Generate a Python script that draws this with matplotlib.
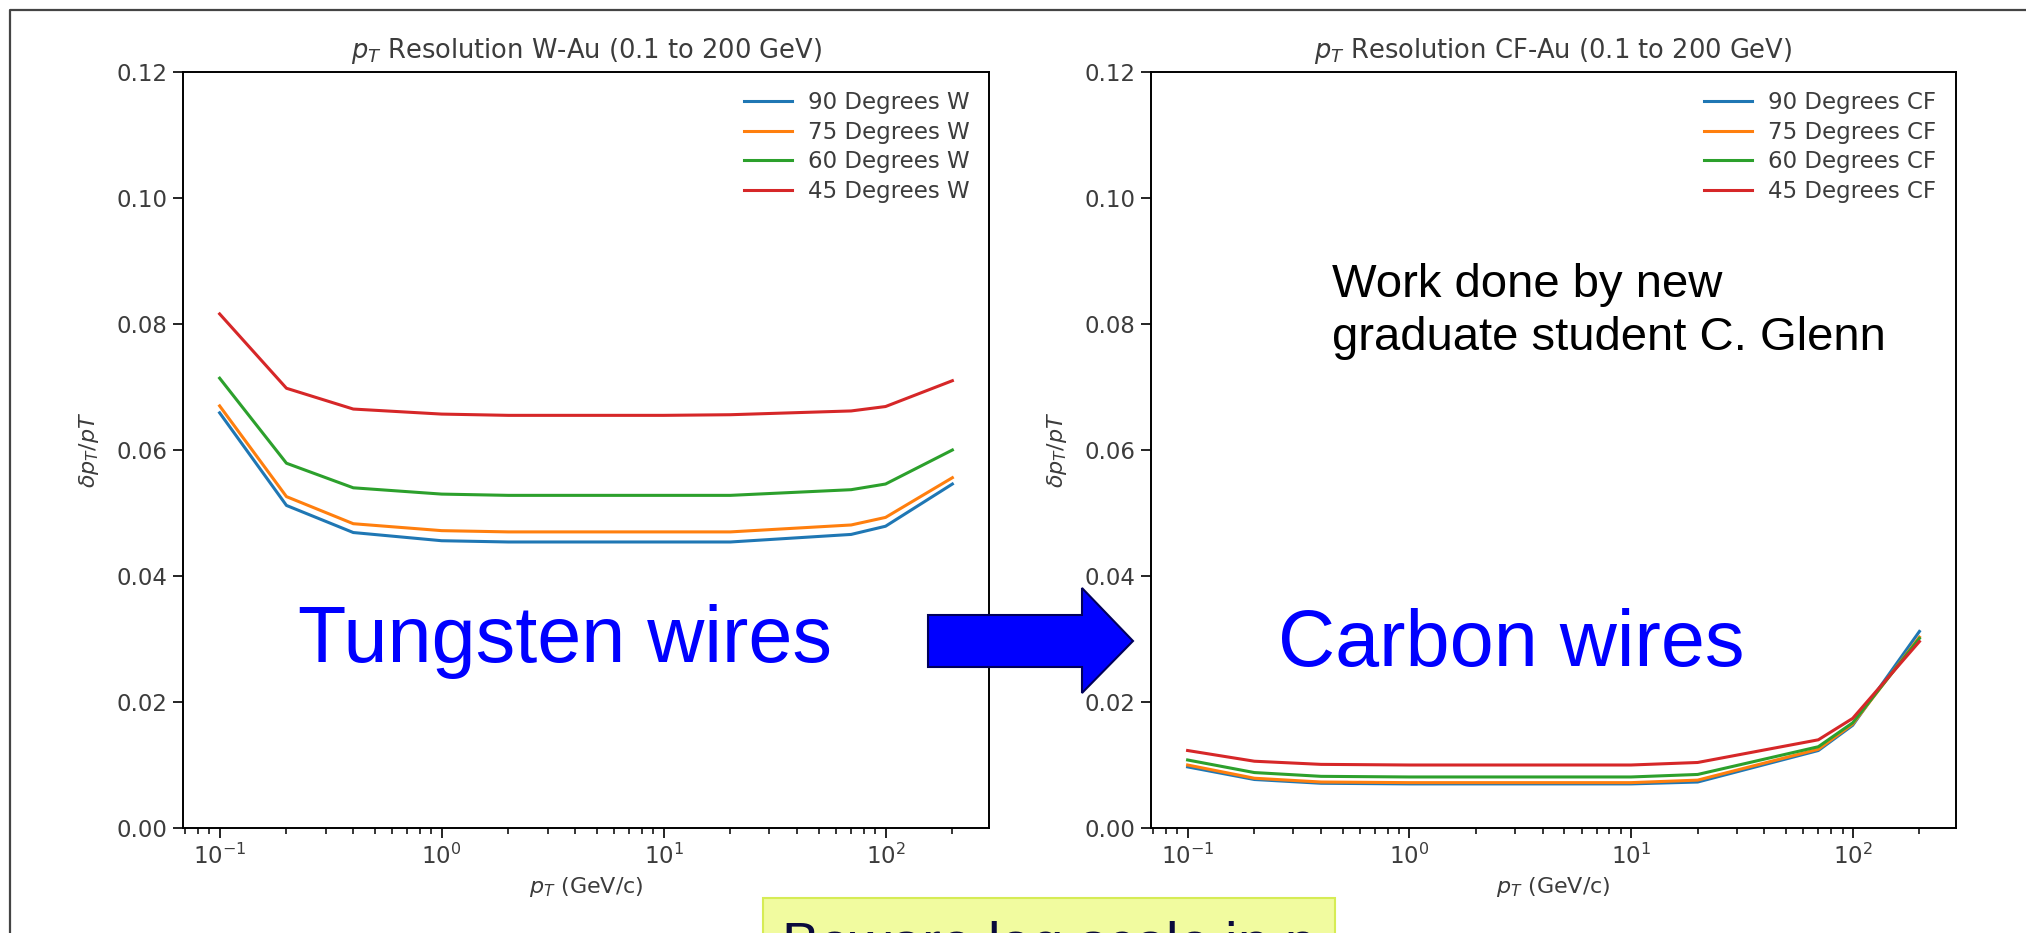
import matplotlib
matplotlib.use("Agg")
import matplotlib.pyplot as plt
from matplotlib.lines import Line2D
from matplotlib.patches import Polygon, Rectangle

# transverse momentum points (GeV/c)
pt = [0.1, 0.2, 0.4, 1, 2, 5, 10, 20, 70, 100, 200]
angles = ["90", "75", "60", "45"]
colors = ["#1f77b4", "#ff7f0e", "#2ca02c", "#d62728"]

# tungsten wire chamber, dpT/pT per angle
res_w_90 = [0.0659, 0.0512, 0.0469, 0.0456, 0.0454, 0.0454, 0.0454, 0.0454, 0.0466, 0.0479, 0.0546]
res_w_75 = [0.0670, 0.0526, 0.0483, 0.0472, 0.0470, 0.0470, 0.0470, 0.0470, 0.0481, 0.0493, 0.0556]
res_w_60 = [0.0714, 0.0579, 0.0540, 0.0530, 0.0528, 0.0528, 0.0528, 0.0528, 0.0537, 0.0546, 0.0600]
res_w_45 = [0.0816, 0.0698, 0.0665, 0.0657, 0.0655, 0.0655, 0.0655, 0.0656, 0.0662, 0.0669, 0.0710]

# carbon fibre wire chamber
res_cf_90 = [0.0097, 0.0077, 0.0071, 0.0070, 0.0070, 0.0070, 0.0070, 0.0073, 0.0123, 0.0163, 0.0312]
res_cf_75 = [0.0100, 0.0079, 0.0073, 0.0072, 0.0072, 0.0072, 0.0072, 0.0076, 0.0125, 0.0165, 0.0303]
res_cf_60 = [0.0108, 0.0088, 0.0082, 0.0081, 0.0081, 0.0081, 0.0081, 0.0085, 0.0129, 0.0167, 0.0301]
res_cf_45 = [0.0123, 0.0106, 0.0101, 0.0100, 0.0100, 0.0100, 0.0100, 0.0104, 0.0140, 0.0174, 0.0296]

W, H = 2026, 933
txt = "#3c3c3c"


def fx(px):
    return px / W


def fy(py):
    # pixel rows counted from the top
    return (H - py) / H


def res_panel(ax, series, tag, title):
    for vals, ang, c in zip(series, angles, colors):
        ax.plot(pt, vals, color=c, lw=2.2, label=f"{ang} Degrees {tag}")
    ax.set_xscale("log")
    ax.set_ylim(0, 0.12)
    ax.set_yticks([0, 0.02, 0.04, 0.06, 0.08, 0.10, 0.12])
    ax.set_title(title, fontsize=18.5, color=txt, pad=10)
    ax.set_xlabel("$p_T$ (GeV/c)", fontsize=16, color=txt, labelpad=5)
    ax.set_ylabel("$\\delta p_T/pT$", fontsize=16, color=txt, labelpad=11)
    ax.tick_params(which="major", length=7, width=1.2, labelsize=16.5,
                   labelcolor=txt, pad=4)
    ax.tick_params(which="minor", length=4, width=1.1)
    for sp in ax.spines.values():
        sp.set_linewidth(1.4)
    ax.legend(loc="upper right", frameon=False, fontsize=16.5,
              labelcolor=txt, labelspacing=0.28, handlelength=2.1,
              handletextpad=0.7, borderaxespad=0.45)


fig = plt.figure(figsize=(W / 100, H / 100), dpi=100)

ax1 = fig.add_axes([fx(183), fy(828), fx(989) - fx(183), fy(72) - fy(828)])
ax2 = fig.add_axes([fx(1151), fy(828), fx(1956) - fx(1151), fy(72) - fy(828)])

res_panel(ax1, [res_w_90, res_w_75, res_w_60, res_w_45], "W",
          "$p_T$ Resolution W-Au (0.1 to 200 GeV)")
res_panel(ax2, [res_cf_90, res_cf_75, res_cf_60, res_cf_45], "CF",
          "$p_T$ Resolution CF-Au (0.1 to 200 GeV)")

# slide frame
fig.add_artist(Line2D([fx(10), fx(10), 1.0], [0.0, fy(10), fy(10)],
                      color="#444444", lw=1.6))

# arrow from tungsten to carbon panel
arrow = [(928, 615), (1082, 615), (1082, 588), (1133, 641),
         (1082, 693), (1082, 667), (928, 667)]
fig.add_artist(Polygon([(fx(x), fy(y)) for x, y in arrow], closed=True,
                       facecolor="#0000ff", edgecolor="#00005a", lw=1.5))

# note box along the bottom edge, running off the slide
fig.add_artist(Rectangle((fx(763), -0.05), fx(1335) - fx(763), fy(898) + 0.05,
                         facecolor="#f1fb9f", edgecolor="#d6ec55", lw=1.5))
fig.text(fx(781), fy(961), "Beware log scale in p$_\\mathregular{T}$",
         fontsize=40.5, family="Liberation Sans", color="#0a0a3c",
         va="baseline", ha="left")

fig.text(fx(298), fy(662), "Tungsten wires", fontsize=57,
         family="Liberation Sans", color="#0000ff", va="baseline")
fig.text(fx(1278), fy(666), "Carbon wires", fontsize=57,
         family="Liberation Sans", color="#0000ff", va="baseline")
fig.text(fx(1332), fy(297), "Work done by new", fontsize=34,
         family="Liberation Sans", color="black", va="baseline")
fig.text(fx(1332), fy(350), "graduate student C. Glenn", fontsize=34,
         family="Liberation Sans", color="black", va="baseline")

fig.savefig("out.png", dpi=100)
